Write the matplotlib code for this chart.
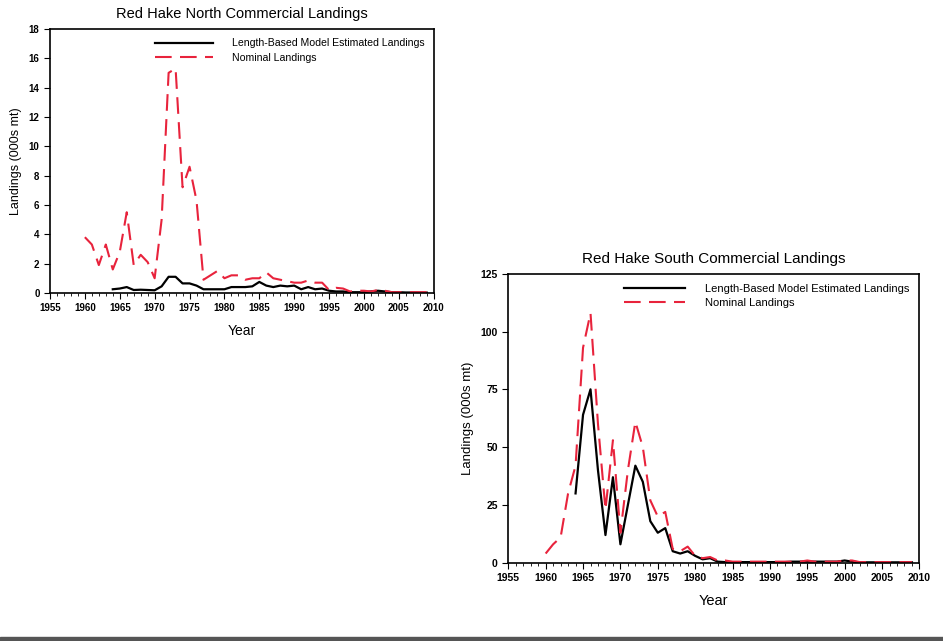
import matplotlib.pyplot as plt
import matplotlib.patches as mpatches
from matplotlib.ticker import MultipleLocator

plt.rcParams['font.family'] = ['Liberation Sans', 'DejaVu Sans']

years_nom = list(range(1960, 2010))
years_mod = list(range(1964, 2010))

north_nominal = [3.8, 3.3, 1.9, 3.3, 1.6, 2.8, 5.5, 1.9, 2.6, 2.1,
                 1.0, 5.0, 15.0, 15.3, 7.2, 8.6, 6.3, 0.9, 1.2, 1.5,
                 1.0, 1.2, 1.2, 0.9, 1.0, 1.0, 1.4, 1.0, 0.9, 0.8,
                 0.7, 0.7, 0.85, 0.7, 0.7, 0.2, 0.35, 0.3, 0.1, 0.15,
                 0.15, 0.1, 0.2, 0.15, 0.05, 0.05, 0.05, 0.05, 0.05, 0.05]
north_model = [0.25, 0.3, 0.4, 0.2, 0.22, 0.2, 0.18, 0.45, 1.1, 1.1,
               0.65, 0.65, 0.5, 0.25, 0.25, 0.25, 0.25, 0.4, 0.4, 0.4,
               0.45, 0.75, 0.5, 0.4, 0.5, 0.45, 0.5, 0.25, 0.4, 0.25,
               0.3, 0.15, 0.1, 0.1, 0.05, 0.05, 0.05, 0.1, 0.15, 0.1,
               0.05, 0.05, 0.03, 0.03, 0.02, 0.02]

south_nominal = [4, 8, 11, 30, 42, 93, 108, 60, 23, 53,
                 13, 40, 61, 50, 27, 20, 22, 6, 5, 7,
                 3, 2, 2.5, 1, 1, 0.5, 0.5, 0.5, 0.5, 0.5,
                 0.5, 0.5, 0.5, 0.5, 0.5, 1, 0.5, 0.5, 0.5, 0.5,
                 1, 1, 0.3, 0.3, 0.3, 0.3, 0.3, 0.3, 0.3, 0.3]
south_model = [30, 64, 75, 40, 12, 37, 8, 25, 42, 35,
               18, 13, 15, 5, 4, 5, 3, 1.5, 2, 0.5,
               0.3, 0.3, 0.3, 0.3, 0.3, 0.3, 0.3, 0.3, 0.3, 0.5,
               0.5, 0.5, 0.5, 0.5, 0.5, 0.5, 1, 0.5, 0.2, 0.2,
               0.2, 0.2, 0.2, 0.2, 0.2, 0.2]

RED = '#e8233c'

fig = plt.figure(figsize=(9.43, 6.41), dpi=100)


def panel(rect, title, nominal, model, ymax, ystep, fs, tfs, lfs):
    ax = fig.add_axes(rect)
    ax.plot(years_mod, model, color='black', lw=1.6,
            label='Length-Based Model Estimated Landings')
    ax.plot(years_nom, nominal, color=RED, lw=1.5, dashes=(8, 4),
            label='Nominal Landings')
    ax.set_xlim(1955, 2010)
    ax.set_ylim(0, ymax)
    ax.xaxis.set_major_locator(MultipleLocator(5))
    ax.xaxis.set_minor_locator(MultipleLocator(1))
    ax.yaxis.set_major_locator(MultipleLocator(ystep))
    ax.tick_params(axis='both', which='major', labelsize=fs, length=4)
    ax.tick_params(axis='x', which='minor', length=2.5)
    for lab in ax.get_xticklabels() + ax.get_yticklabels():
        lab.set_fontweight('bold')
    for s in ax.spines.values():
        s.set_linewidth(1.2)
    ax.set_title(title, fontsize=tfs, pad=8)
    ax.set_xlabel('Year', fontsize=fs + 3, labelpad=8)
    ax.set_ylabel('Landings (000s mt)', fontsize=fs + 2, labelpad=5)
    ax.legend(loc='upper right', frameon=False, fontsize=lfs,
              handlelength=5.5, handletextpad=1.8, labelspacing=0.4,
              borderaxespad=0.5)
    return ax


panel([0.053, 0.543, 0.407, 0.412], 'Red Hake North Commercial Landings',
      north_nominal, north_model, 18, 2, 7, 10.5, 7.6)
panel([0.539, 0.122, 0.436, 0.451], 'Red Hake South Commercial Landings',
      south_nominal, south_model, 125, 25, 7.5, 11, 8)

fig.patches.append(mpatches.Rectangle((0, 0), 1, 0.007, transform=fig.transFigure,
                                      color='#555555', zorder=0))

fig.savefig('out.png', dpi=100)
